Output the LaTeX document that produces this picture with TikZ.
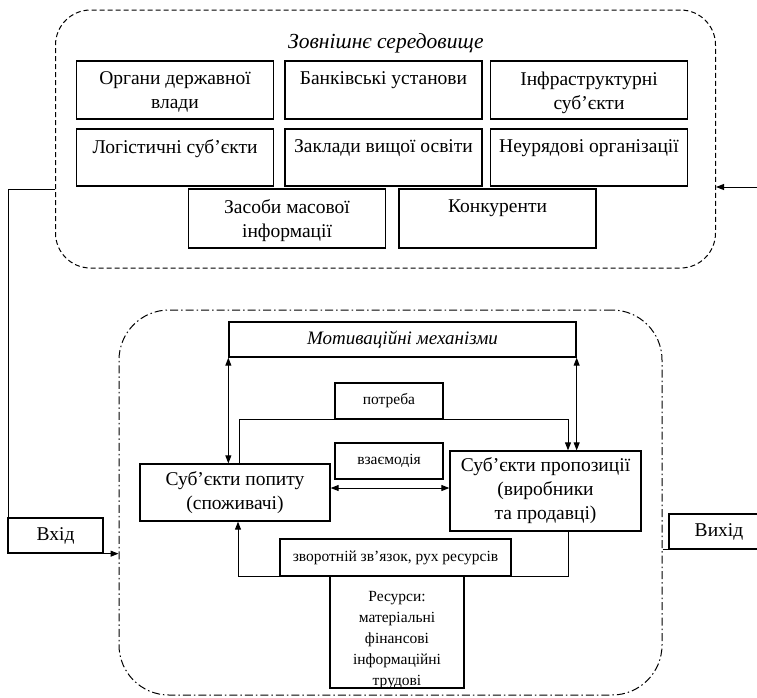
\documentclass[tikz,border=0pt]{standalone}
\usepackage{fontspec}
\setmainfont{Liberation Serif}
\usetikzlibrary{arrows.meta}

\begin{document}
\begin{tikzpicture}[x=1pt, y=-1pt,
                    line width=1pt,
                    >={Triangle[length=8pt,width=6pt]}]
    \tikzstyle{bigfont}=[font=\fontsize{19.5}{24}\selectfont]
    \tikzstyle{smallfont}=[font=\fontsize{15.5}{21}\selectfont]
    \tikzstyle{unit}=[draw, rectangle, line width=1.3pt, inner sep=0pt, minimum width=197pt, minimum height=58pt, bigfont]
    \tikzstyle{caption}=[anchor=north, align=center, inner xsep=4pt, inner ysep=11pt, bigfont]
    \tikzstyle{agent}=[draw, rectangle, line width=1.3pt, align=center, inner sep=0pt, bigfont]
    \tikzstyle{flow}=[draw, rectangle, line width=1.3pt, align=center, inner sep=0pt, smallfont]
    \tikzstyle{arr}=[->]
    \tikzstyle{dblarr}=[<->]

    \useasboundingbox (0,0) rectangle (757,697);

    % external environment
    \node[draw, dash pattern=on 5pt off 3pt, rounded corners=35pt,
          minimum width=660pt, minimum height=258pt] (env) at (385.5,139) {};
    \node[font=\fontsize{21.5}{26}\selectfont\itshape] (envtitle) at (386,43) {Зовнішнє середовище};

    \node[unit, label={[caption]north:{Органи державної\\влади}}] (gov) at (175,90) {};
    \node[unit, label={[caption]north:{Банківські установи}}] (bank) at (383.5,90) {};
    \node[unit, label={[caption]north:{Інфраструктурні\\суб’єкти}}] (infra) at (589,90) {};
    \node[unit, minimum height=57pt, label={[caption]north:{Логістичні суб’єкти}}] (logist) at (175,157.5) {};
    \node[unit, minimum height=57pt, label={[caption]north:{Заклади вищої освіти}}] (univ) at (383.5,157.5) {};
    \node[unit, minimum height=57pt, label={[caption]north:{Неурядові організації}}] (ngo) at (589,157.5) {};
    \node[unit, minimum height=59pt, label={[caption]north:{Засоби масової\\інформації}}] (media) at (287,218.5) {};
    \node[unit, minimum height=59pt, label={[caption]north:{Конкуренти}}] (rivals) at (497.5,218.5) {};

    % market
    \node[draw, dash pattern=on 8pt off 3pt on 1.5pt off 3pt, rounded corners=50pt,
          minimum width=543pt, minimum height=385pt] (market) at (390.5,502.5) {};

    \node[agent, minimum width=347pt, minimum height=35pt, font=\fontsize{19}{24}\selectfont\itshape] (motiv) at (402.5,339.5) {Мотиваційні механізми};
    \node[flow, minimum width=108pt, minimum height=36pt] (need) at (389,401) {потреба};
    \node[flow, minimum width=108pt, minimum height=36pt] (inter) at (389,461) {взаємодія};
    \node[agent, minimum width=190pt, minimum height=57pt] (demand) at (235,492.5) {Суб’єкти попиту\\(споживачі)};
    \node[agent, minimum width=191pt, minimum height=80pt] (supply) at (545.5,491) {Суб’єкти пропозиції\\(виробники\\та продавці)};
    \node[flow, minimum width=231pt, minimum height=37pt] (feedback) at (395.5,557.5) {зворотній зв’язок, рух ресурсів};
    \node[flow, minimum width=134pt, minimum height=112pt,
          label={[caption, smallfont, inner ysep=15pt]north:{Ресурси:\\матеріальні\\фінансові\\інформаційні\\трудові}}] (res) at (397,632) {};

    % input and output
    \node[agent, minimum width=95pt, minimum height=35pt] (vhid) at (55.5,535.5) {Вхід};
    \node[agent, minimum width=100pt, minimum height=35pt] (vyhid) at (719,531.5) {Вихід};

    \coordinate (inR) at (757,187);
    \coordinate (outL) at (8,189);
    \coordinate (needL) at (239,419);
    \coordinate (needR) at (568,419);
    \coordinate (mid) at (390,488);
    \coordinate (fbL) at (238,576);
    \coordinate (fbR) at (568,576);

    \draw[arr] (inR) -- (inR -| env.east);
    \draw[arr] (env.west |- outL) -- (outL) |- (market.west |- vhid.south);
    \draw (market.east |- vyhid.south) -- (vyhid.south west);

    \draw[dblarr] (motiv.south west) -- (motiv.south west |- demand.north);
    \draw[dblarr] (motiv.south east) -- (motiv.south east |- supply.north);
    \draw[arr] (needL |- demand.north) -- (needL) -- (needR) -- (needR |- supply.north);
    \draw[dblarr] (demand.east |- mid) -- (supply.west |- mid);
    \draw[arr] (fbR |- supply.south) -- (fbR) -- (fbL) -- (fbL |- demand.south);
\end{tikzpicture}
\end{document}
